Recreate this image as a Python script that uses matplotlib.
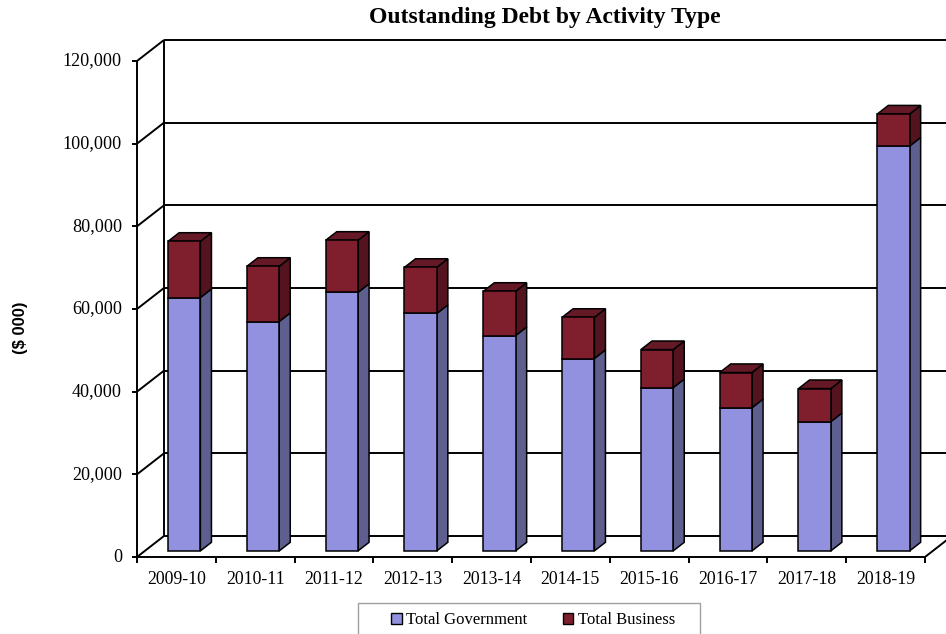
import matplotlib
matplotlib.use("Agg")
import matplotlib.pyplot as plt
from matplotlib.patches import Polygon, Patch, Rectangle

# ---- data -------------------------------------------------------------
years = ["2009-10", "2010-11", "2011-12", "2012-13", "2013-14",
         "2014-15", "2015-16", "2016-17", "2017-18", "2018-19"]
government = [61300, 55500, 62550, 57450, 52100, 46550, 39500, 34650, 31270, 97950]
business = [13600, 13350, 12600, 11150, 10700, 9950, 9200, 8500, 8000, 7750]
y_ticks = [0, 20000, 40000, 60000, 80000, 100000, 120000]
series_names = ["Total Government", "Total Business"]

# ---- styling -----------------------------------------------------------
W, H, DPI = 946, 634, 100
GOV_FRONT, GOV_SIDE, GOV_TOP = "#9191df", "#5e5e8f", "#7474b4"
BUS_FRONT, BUS_SIDE, BUS_TOP = "#7f1f2e", "#53141f", "#651927"
SERIF = ["Liberation Serif", "DejaVu Serif"]
SANS = ["Liberation Sans", "DejaVu Sans"]

# front plane of the plot area, in pixels
AX_L, AX_R, AX_T, AX_B = 137, 925, 61, 557
WALL_DX, WALL_DY = 27, 21          # depth of the 3-D floor (px)
BAR_D0, BAR_D1 = 0.29, 0.70        # bar front/back depth as wall fraction
BAR_W = 0.41                        # bar width as fraction of category
YMAX = 120000

fig = plt.figure(figsize=(W / DPI, H / DPI), dpi=DPI)
ax = fig.add_axes([AX_L / W, 1 - AX_B / H, (AX_R - AX_L) / W, (AX_B - AX_T) / H])
n = len(years)
ax.set_xlim(0, n)
ax.set_ylim(0, YMAX)
ax.axis("off")

# pixel depth -> data units
ux = n / (AX_R - AX_L)
uy = YMAX / (AX_B - AX_T)
DX, DY = WALL_DX * ux, WALL_DY * uy


def off(x, y, d):
    """Point (x, y) pushed back by depth fraction d."""
    return (x + d * DX, y + d * DY)


line_kw = dict(color="black", lw=1.4, clip_on=False, solid_capstyle="butt")

# back wall gridlines + left wall diagonals
for v in y_ticks:
    (bx0, by0), (bx1, by1) = off(0, v, 1), off(n, v, 1)
    ax.plot([bx0, bx1 + 1], [by0, by1], **line_kw, zorder=1)
    ax.plot([0, bx0], [v, by0], **line_kw, zorder=1)
# vertical edges of left wall
ax.plot([0, 0], [0, YMAX], **line_kw, zorder=5)
ax.plot([off(0, 0, 1)[0]] * 2, [off(0, 0, 1)[1], off(0, YMAX, 1)[1]], **line_kw, zorder=1)
# floor front edge and right diagonal
ax.plot([0, n], [0, 0], **line_kw, zorder=5)
ax.plot([n, off(n, 0, 1)[0]], [0, off(n, 0, 1)[1]], **line_kw, zorder=5)

# tick marks and labels
tick_len_x = 5 * ux
tick_len_y = 6 * uy
for v in y_ticks:
    ax.plot([-tick_len_x, 0], [v, v], **line_kw, zorder=5)
    ax.text(-15 * ux, v, f"{v:,}", ha="right", va="center",
            family=SERIF, fontsize=13.1)
for i in range(n + 1):
    ax.plot([i, i], [0, -tick_len_y], **line_kw, zorder=5)
for i, lab in enumerate(years):
    ax.text(i + 0.5, -22 * uy, lab, ha="center", va="center",
            family=SERIF, fontsize=12.8)

edge_kw = dict(edgecolor="black", lw=1.1, joinstyle="miter", clip_on=False)


def box(xc, y0, y1, front, side, top, draw_top, z):
    x0, x1 = xc - BAR_W / 2, xc + BAR_W / 2
    f = [off(x0, y0, BAR_D0), off(x1, y0, BAR_D0),
         off(x1, y1, BAR_D0), off(x0, y1, BAR_D0)]
    s = [off(x1, y0, BAR_D0), off(x1, y0, BAR_D1),
         off(x1, y1, BAR_D1), off(x1, y1, BAR_D0)]
    ax.add_patch(Polygon(s, closed=True, facecolor=side, zorder=z, **edge_kw))
    if draw_top:
        t = [off(x0, y1, BAR_D0), off(x1, y1, BAR_D0),
             off(x1, y1, BAR_D1), off(x0, y1, BAR_D1)]
        ax.add_patch(Polygon(t, closed=True, facecolor=top, zorder=z, **edge_kw))
    ax.add_patch(Polygon(f, closed=True, facecolor=front, zorder=z + 0.1, **edge_kw))


for i, (g, b) in enumerate(zip(government, business)):
    xc = i + 0.5
    box(xc, 0, g, GOV_FRONT, GOV_SIDE, GOV_TOP, False, 3)
    box(xc, g, g + b, BUS_FRONT, BUS_SIDE, BUS_TOP, True, 3.5)

# titles
fig.text(545 / W, 1 - 18 / H, "Outstanding Debt by Activity Type",
         ha="center", va="center", family=SERIF, fontsize=17, fontweight="bold")
fig.text(20 / W, 1 - 328 / H, "($ 000)", ha="center", va="center",
         rotation=90, family=SANS, fontsize=12, fontweight="bold")

# legend: frame spans below the figure edge
fig.patches.append(Rectangle((358 / W, -0.05), (700 - 358) / W, 0.05 + (634 - 603) / H,
                             transform=fig.transFigure, facecolor="white",
                             edgecolor="#a0a0a0", lw=1.0, zorder=0))
handles = [Patch(facecolor=GOV_FRONT, edgecolor="black", lw=1.0),
           Patch(facecolor=BUS_FRONT, edgecolor="black", lw=1.0)]
leg = fig.legend(handles, series_names, loc="center",
                 bbox_to_anchor=(533 / W, 1 - 620 / H), ncol=2,
                 frameon=False, handlelength=0.65,
                 handleheight=0.65, handletextpad=0.25, columnspacing=2.1,
                 borderpad=0, borderaxespad=0,
                 prop={"family": SERIF, "size": 12.0})

fig.savefig("out.png", dpi=DPI)
